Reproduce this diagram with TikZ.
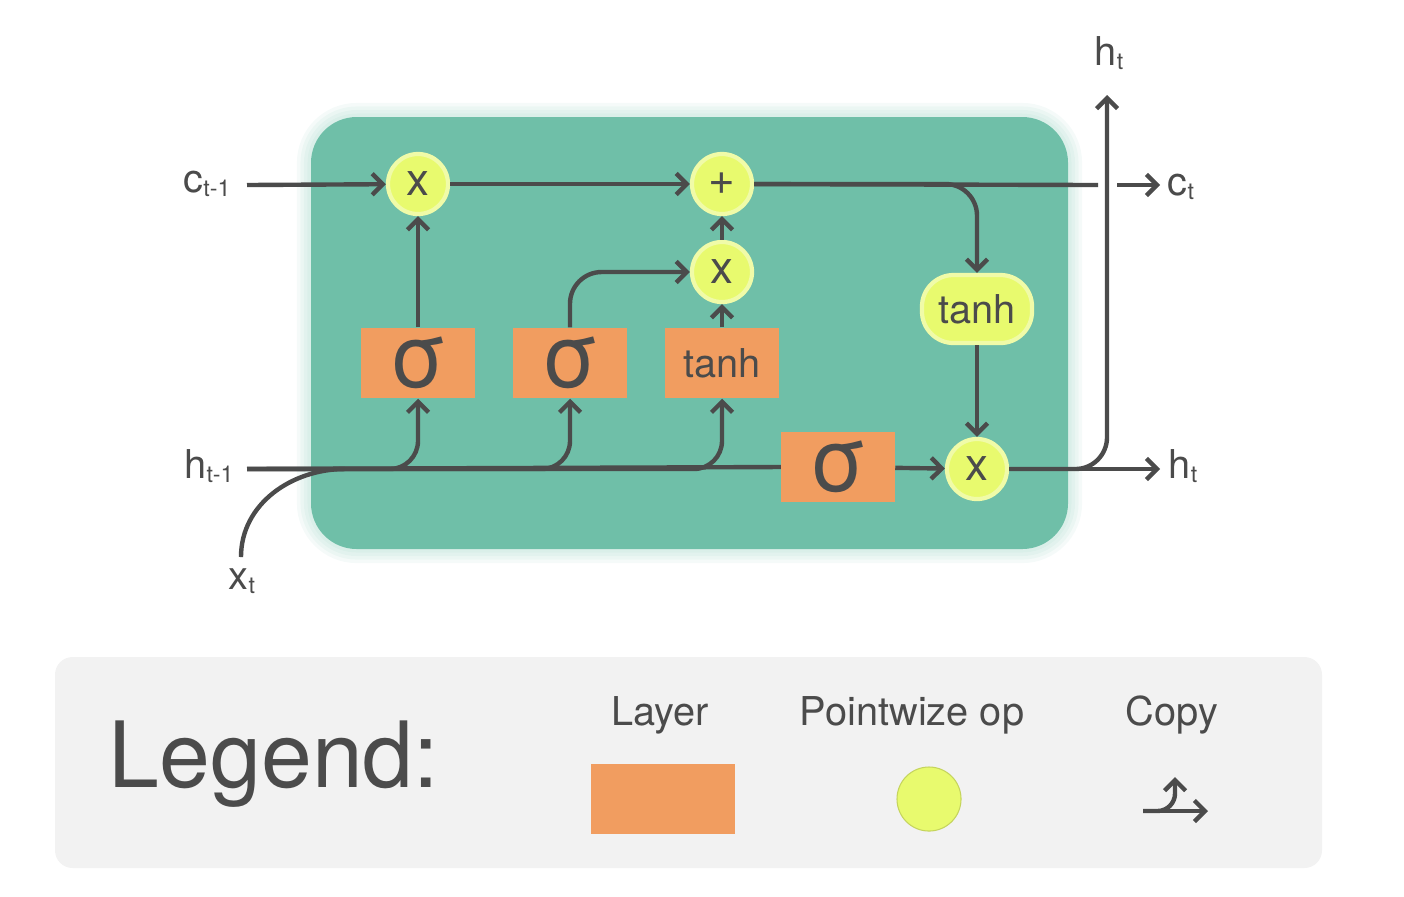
\documentclass[tikz,border=0pt]{standalone}
\usepackage{fontspec}
\setmainfont{TeX Gyre Heros}
\usetikzlibrary{arrows.meta}

\definecolor{cellgreen}{HTML}{6FBFA8}
\definecolor{layerorange}{HTML}{F19D60}
\definecolor{opyellow}{HTML}{E8FA6E}
\definecolor{glowyellow}{HTML}{F0FBA8}
\definecolor{inkgray}{HTML}{4B4B4B}
\definecolor{legendgray}{HTML}{F2F2F2}

\newcommand{\lsub}[1]{\raisebox{-0.1em}{\fontsize{6.6pt}{7pt}\selectfont #1}}
\newcommand{\bigsigma}{\fontsize{25pt}{25pt}\selectfont σ}

\begin{document}
\begin{tikzpicture}[
    x=0.01cm, y=-0.01cm,
    every node/.style={text=inkgray, font=\fontsize{11.3pt}{13pt}\selectfont},
    op/.style={circle, fill=opyellow, draw=glowyellow, line width=1.2pt, minimum size=0.6cm, inner sep=0pt, font=\fontsize{13pt}{13pt}\selectfont},
    optanh/.style={rectangle, rounded corners=9pt, fill=opyellow, draw=glowyellow, line width=1.2pt, minimum width=1.1cm, minimum height=0.68cm},
    layer/.style={rectangle, fill=layerorange, minimum width=1.13cm, minimum height=0.7cm, inner sep=0pt},
    line/.style={draw=inkgray, line width=1.25pt},
    arrow/.style={line, -{Straight Barb[length=3pt, width=6pt, line width=1.25pt]}}
]
\useasboundingbox (0,0) rectangle (1404,896);

% cell
\foreach \w in {2,4,...,8}
  \draw[cellgreen, opacity=0.07, line width=\w pt, rounded corners=13pt] (311,117) rectangle (1068,549);
\fill[cellgreen, rounded corners=13pt] (311,117) rectangle (1068,549);

% operations and layers
\node[op] (fx) at (418,184) {x};
\node[op] (add) at (722,184) {+};
\node[op] (ix) at (722,272) {x};
\node[op] (ox) at (977,469) {x};
\node[optanh] (tc) at (977,309) {tanh};
\node[layer] (fgate) at (418,363) {\bigsigma};
\node[layer] (igate) at (570,363) {\bigsigma};
\node[layer] (cand) at (722,363) {tanh};
\node[layer] (ogate) at (838,467) {\bigsigma};

% inputs and outputs
\node (cin) at (207,184) {c\lsub{t-1}};
\node (hin) at (209,466) {h\lsub{t-1}};
\node (xin) at (242,581) {x\lsub{t}};
\node (hup) at (1109,53) {h\lsub{t}};
\node (cout) at (1181,187) {c\lsub{t}};
\node (hout) at (1183,466) {h\lsub{t}};

\coordinate (cstart) at (247,185);
\coordinate (hstart) at (247,469);
\coordinate (xstart) at (241,557);
\coordinate (xjoin) at (345,469);
\coordinate (cgapa) at (1098,185);
\coordinate (cgapb) at (1117,185);
\coordinate (cend) at (1160,185);
\coordinate (hend) at (1160,469);
\coordinate (hupend) at (1107,95);

% cell state
\draw[arrow] (cstart) -- (fx);
\draw[arrow] (fx) -- (add);
\draw[line] (add) -- (cgapa);
\draw[arrow] (cgapb) -- (cend);
\draw[arrow, rounded corners=9pt] (add.east) -| (tc.north);

% hidden state and input
\draw[line] (hstart) -- (ogate.west);
\draw[line] (xstart) to[out=90, in=180] (xjoin);
\draw[arrow, rounded corners=8pt] (hstart) -| (fgate.south);
\draw[arrow, rounded corners=8pt] (hstart) -| (igate.south);
\draw[arrow, rounded corners=8pt] (hstart) -| (cand.south);
\draw[arrow] (ogate) -- (ox);

% gates
\draw[arrow] (fgate) -- (fx);
\draw[arrow, rounded corners=9pt] (igate.north) |- (ix.west);
\draw[arrow] (cand) -- (ix);
\draw[arrow] (ix) -- (add);
\draw[arrow] (tc) -- (ox);

% output
\draw[arrow, rounded corners=9pt] (ox.east) -| (hupend);
\draw[arrow] (ox) -- (hend);

% legend
\fill[legendgray, rounded corners=5pt] (55,657) rectangle (1322,868);
\node (legtitle) at (274,764) {\fontsize{26pt}{30pt}\selectfont Legend:};
\node (laylbl) at (660,715) {Layer};
\node[layer, minimum width=1.44cm] (laykey) at (663,799) {};
\node (oplbl) at (912,715) {Pointwize op};
\node[circle, fill=opyellow, draw=opyellow!85!black, line width=0.3pt, minimum size=0.64cm] (opkey) at (929,799) {};
\node (cplbl) at (1172,715) {Copy};
\coordinate (cpa) at (1143,811);
\coordinate (cpb) at (1208,811);
\coordinate (cpc) at (1175,777);
\draw[arrow] (cpa) -- (cpb);
\draw[arrow, rounded corners=5pt] (cpa) -| (cpc);

\end{tikzpicture}
\end{document}
